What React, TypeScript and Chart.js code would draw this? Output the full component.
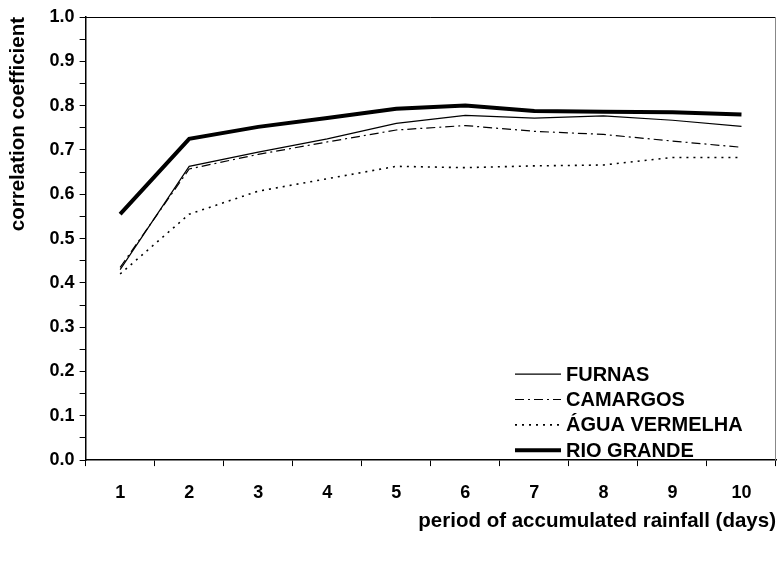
import React, { useEffect, useRef } from "react";
import { Chart, registerables } from "chart.js";

Chart.register(...registerables);

const categories = ["1", "2", "3", "4", "5", "6", "7", "8", "9", "10"];
const furnas = [0.43, 0.663, 0.695, 0.725, 0.76, 0.778, 0.772, 0.777, 0.767, 0.753];
const camargos = [0.435, 0.657, 0.69, 0.718, 0.745, 0.755, 0.742, 0.735, 0.72, 0.706];
const aguaVermelha = [0.42, 0.555, 0.607, 0.635, 0.663, 0.66, 0.664, 0.666, 0.683, 0.683];
const rioGrande = [0.555, 0.725, 0.752, 0.772, 0.793, 0.8, 0.788, 0.786, 0.785, 0.78];
const seriesNames = ["FURNAS", "CAMARGOS", "ÁGUA VERMELHA", "RIO GRANDE"];

const FONT = "'Liberation Sans', Arial, sans-serif";

const frameAndLegend = {
  id: "frameAndLegend",
  afterDatasetsDraw(chart: any) {
    const { ctx, chartArea } = chart;
    ctx.save();
    ctx.lineWidth = 1;
    ctx.strokeStyle = "#000";
    ctx.beginPath();
    ctx.moveTo(chartArea.left, chartArea.top + 0.5);
    ctx.lineTo(chartArea.right, chartArea.top + 0.5);
    ctx.stroke();
    ctx.strokeStyle = "#888";
    ctx.beginPath();
    ctx.moveTo(chartArea.right - 0.5, chartArea.top);
    ctx.lineTo(chartArea.right - 0.5, chartArea.bottom);
    ctx.stroke();

    const x0 = chartArea.right - 261;
    const x1 = x0 + 46;
    const tx = x1 + 5;
    const yStart = chartArea.bottom - 86;
    const step = 25.4;
    ctx.font = `bold 20px ${FONT}`;
    ctx.textBaseline = "middle";
    ctx.fillStyle = "#000";
    chart.data.datasets.forEach((ds: any, i: number) => {
      const y = yStart + i * step;
      ctx.save();
      ctx.strokeStyle = ds.borderColor;
      ctx.lineWidth = ds.borderWidth;
      ctx.setLineDash(ds.borderDash || []);
      ctx.beginPath();
      ctx.moveTo(x0, y);
      ctx.lineTo(x1, y);
      ctx.stroke();
      ctx.restore();
      ctx.fillText(ds.label, tx, y + 1);
    });
    ctx.restore();
  },
};

export default function App() {
  const ref = useRef<HTMLCanvasElement>(null);
  useEffect(() => {
    document.body.style.margin = "0";
    const canvas = ref.current!;
    const chart = new Chart(canvas, {
      type: "line",
      data: {
        labels: categories,
        datasets: [
          { label: seriesNames[0], data: furnas, borderColor: "#000", borderWidth: 1.2, pointRadius: 0, tension: 0 },
          { label: seriesNames[1], data: camargos, borderColor: "#000", borderWidth: 1.2, borderDash: [9, 4, 2, 4], pointRadius: 0, tension: 0 },
          { label: seriesNames[2], data: aguaVermelha, borderColor: "#000", borderWidth: 1.6, borderDash: [2, 5], pointRadius: 0, tension: 0 },
          { label: seriesNames[3], data: rioGrande, borderColor: "#000", borderWidth: 4, pointRadius: 0, tension: 0 },
        ],
      },
      options: {
        responsive: false,
        animation: false,
        layout: { padding: { left: 2, right: 1, top: 17, bottom: 28.7 } },
        plugins: { legend: { display: false }, tooltip: { enabled: false } },
        scales: {
          x: {
            type: "category",
            offset: true,
            grid: { offset: true, drawOnChartArea: false, drawTicks: true, tickLength: 6, color: "#000", lineWidth: 1 },
            border: { display: true, color: "#000", width: 1.5 },
            ticks: { color: "#000", padding: 16, font: { family: FONT, size: 18, weight: "bold" }, maxRotation: 0, autoSkip: false },
            title: {
              display: true,
              text: "period of accumulated rainfall (days)",
              align: "end",
              color: "#000",
              font: { family: FONT, size: 20.5, weight: "bold" },
              padding: { top: -11, bottom: 2 },
            },
          },
          y: {
            min: 0,
            max: 1,
            grid: { drawOnChartArea: false, drawTicks: true, tickLength: 6, color: "#000", lineWidth: 1 },
            border: { display: true, color: "#000", width: 1.5 },
            ticks: {
              stepSize: 0.05,
              autoSkip: false,
              color: "#000",
              padding: 5,
              font: { family: FONT, size: 18, weight: "bold" },
              callback: (v: any, i: number) => (i % 2 === 0 ? Number(v).toFixed(1) : ""),
            },
            title: {
              display: true,
              text: "correlation coefficient",
              align: "end",
              color: "#000",
              font: { family: FONT, size: 20.5, weight: "bold" },
              padding: { top: 4, bottom: 14 },
            },
          },
        },
      },
      plugins: [frameAndLegend],
    });
    return () => chart.destroy();
  }, []);
  return <canvas ref={ref} width={777} height={564} style={{ display: "block" }} />;
}
